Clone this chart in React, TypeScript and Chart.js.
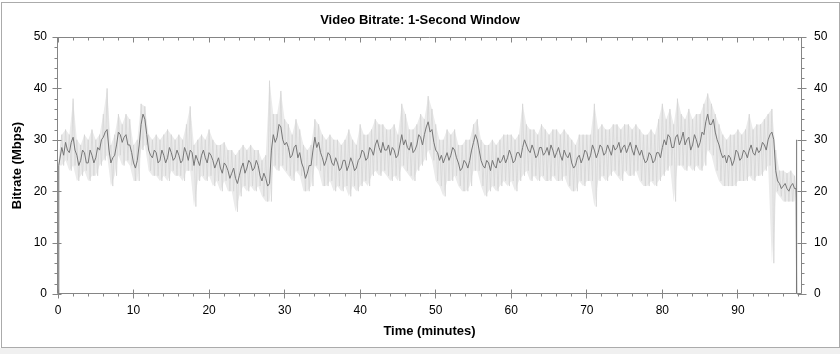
import React, { useEffect, useRef } from 'react';
import { Chart, registerables } from 'chart.js';

Chart.register(...registerables);

const TITLE = 'Video Bitrate: 1-Second Window';
const X_TITLE = 'Time (minutes)';
const Y_TITLE = 'Bitrate (Mbps)';
const X_MIN = 0;
const X_MAX = 98.35;
const Y_MIN = 0;
const Y_MAX = 50;
const X_MAJOR = [0, 10, 20, 30, 40, 50, 60, 70, 80, 90];
const Y_MAJOR = [0, 10, 20, 30, 40, 50];
const MINOR_STEP = 2;

// samples every 0.5 minutes from t = 0.5 to 97.5
const SAMPLE_START = 0.5;
const SAMPLE_STEP = 0.5;

// main (dark) trace at t = 0.5, 1.0, ... 97.5
const MID = [
  28.5, 29.5, 27.5, 30.5, 27, 26, 27.5, 25.5, 27, 26.5,
  28, 30.5, 32, 25.5, 27, 31.5, 29.5, 31, 29, 25.5,
  26, 33, 34, 28, 26.5, 27.5, 26, 27, 26.5, 27.5,
  26.5, 27, 26, 27.5, 28, 25, 26, 27, 26.5, 27.5,
  26, 25.5, 24.5, 25.5, 24, 23.5, 22.5, 23, 25.5, 24.5,
  25.5, 24.5, 25, 22, 22.5, 21.5, 31, 30.5, 32.5, 29,
  28.5, 27, 29, 27.5, 24.5, 23.5, 25, 30.5, 29.5, 26.5,
  26, 27, 25, 25.5, 24.5, 26, 25, 25.5, 24.5, 26.5,
  27.5, 26.5, 28, 29, 28.5, 29.5, 28, 27, 28, 27,
  31, 30, 28, 27.5, 29, 30.5, 31, 33.5, 32, 28,
  26, 25.5, 27.5, 27, 28, 25.5, 24.5, 25.5, 26, 29.5,
  30, 26, 24.5, 25.5, 26, 24.5, 25.5, 27, 26.5, 27,
  26, 27.5, 28.5, 29, 27.5, 28, 27, 28.5, 27.5, 27,
  28, 27.5, 27, 28, 26.5, 25.5, 25, 27, 26.5, 27.5,
  27, 28, 27.5, 28.5, 27.5, 28, 29, 28.5, 27.5, 29,
  28.5, 28, 29, 27, 26.5, 26, 27, 26, 27.5, 28.5,
  29, 30.5, 28.5, 31, 30, 29, 30.5, 29, 30, 29.5,
  31, 35, 33, 31.5, 29, 26.5, 25.5, 26.5, 26, 27.5,
  26.5, 27.5, 28, 27.5, 28.5, 28, 29, 30, 31.5, 24,
  21.5, 21, 20.5, 21, 20.5,
];

// main (dark) trace at the in-between samples t = 0.75, 1.25, ... 97.25
const MID_B = [
  27, 28, 29.5, 28, 25, 28, 25.5, 28, 25.5, 28.5,
  30, 31.5, 28, 26.5, 29, 31, 30.5, 29, 27.5, 24.5,
  29, 35, 31, 27, 28, 25.5, 28, 25.5, 28.5, 26,
  28, 25.5, 28.5, 26, 27.5, 27, 25, 28, 25.5, 27,
  24.5, 26.5, 23.5, 25, 22.5, 24.5, 21.5, 24.5, 23.5, 26,
  24, 26, 23, 23.5, 21, 28, 29.5, 33, 30, 29.5,
  26.5, 28.5, 26.5, 25.5, 22.5, 25, 28, 28.5, 27.5, 25,
  27.5, 25.5, 26.5, 24, 26, 24, 26.5, 24, 26, 28,
  26, 28.5, 27, 30, 27.5, 28, 29, 28.5, 26.5, 29,
  29, 28.5, 29.5, 28, 31, 29, 32.5, 31.5, 29.5, 27.5,
  27, 26.5, 26, 28.5, 26.5, 24, 26, 24.5, 28, 31,
  28, 25, 26, 24, 25, 26.5, 26, 25.5, 28, 25.5,
  27.5, 26.5, 30, 28, 29, 26.5, 28.5, 27, 28.5, 29,
  26.5, 28.5, 26, 27, 27.5, 24.5, 26.5, 25.5, 28, 26,
  29, 26.5, 29, 27, 29, 27, 28, 29.5, 28.5, 27.5,
  29.5, 27, 28, 28, 25.5, 27.5, 25.5, 27.5, 26.5, 30,
  31, 28.5, 30.5, 29, 31.5, 30, 28, 31, 28.5, 31.5,
  33.5, 33, 34, 30, 27.5, 27, 27, 25, 28, 26,
  28, 26.5, 29, 27, 27.5, 29.5, 28, 31, 30, 22,
  20.5, 21.5, 20, 21.5,
];

// upper envelope (light haze)
const HI = [
  31, 32, 31, 38, 30, 29, 31, 30, 32, 30,
  31, 35, 40, 29, 31, 35, 33, 35, 34, 29,
  30, 37, 36.5, 31, 30, 31, 30, 31, 32, 31,
  30, 31, 30, 33, 36.5, 29, 30, 31, 30, 32,
  30, 29, 29, 29.5, 28, 28, 27, 28, 29, 28,
  29, 28, 28, 26, 27, 41.5, 35, 35, 39.5, 34,
  33, 31, 34, 32, 29, 28, 29, 34, 33, 31,
  30, 31, 30, 30, 29, 30, 32, 30, 29, 33,
  31, 31, 32, 34, 33, 33, 32, 32, 33, 31,
  37, 35, 32, 32, 33, 35, 34, 38.5, 36, 33,
  30, 30, 32, 31, 32, 29, 29, 30, 30, 33,
  34, 30, 29, 29, 30, 29, 30, 31, 31, 31,
  30, 31, 37, 33, 32, 32, 31, 33, 32, 31,
  32, 32, 31, 32, 31, 30, 29, 31, 31, 31,
  31, 37, 32, 33, 32, 32, 33, 33, 32, 33,
  33, 32, 33, 32, 31, 31, 32, 31, 34, 37,
  34, 36, 33, 38, 35, 34, 36, 34, 35, 35,
  37, 39, 37, 35, 33, 31, 30, 31, 31, 32,
  31, 32, 35, 32, 33, 33, 34, 35, 36, 28,
  24, 24, 23.5, 24, 23,
];

// lower envelope (light haze)
const LO = [
  25, 26, 24, 25, 22, 23, 24, 22, 23, 23,
  25, 26, 27, 21, 23, 27, 25, 26, 25, 22,
  22, 28, 29, 24, 23, 23, 22, 23, 22, 24,
  23, 23, 22, 24, 24, 17, 22, 23, 22, 23,
  21, 22, 20, 22, 20, 20, 16, 19, 21, 20,
  21, 20, 21, 19, 18, 18, 25, 24, 25, 24,
  23, 22, 24, 23, 20, 20, 21, 25, 24, 21,
  21, 22, 20, 21, 20, 21, 19, 21, 20, 21,
  22, 21, 23, 24, 23, 24, 23, 22, 23, 22,
  25, 24, 23, 22, 24, 25, 26, 28, 26, 22,
  21, 19, 22, 22, 23, 21, 20, 20, 21, 24,
  24, 21, 19, 20, 21, 20, 21, 22, 21, 22,
  20, 22, 23, 24, 22, 23, 22, 23, 22, 22,
  23, 22, 22, 23, 21, 20, 20, 22, 21, 22,
  22, 17, 22, 23, 22, 23, 24, 23, 22, 24,
  23, 23, 24, 22, 21, 21, 22, 21, 22, 23,
  24, 25, 18, 25, 25, 24, 25, 24, 25, 24,
  25, 28, 27, 24, 22, 21, 21, 21, 21, 22,
  22, 22, 23, 22, 23, 23, 24, 25, 6, 20,
  19, 18, 18, 18, 18,
];

// start and end of the recording
const LEAD_T = [0, 0.1];
const LEAD_V = [0, 25];
const TAIL_T = [97.7, 97.75, 97.8];
const TAIL_V = [20.5, 0, 30];

const FONT = 'Arial, "Liberation Sans", sans-serif';
const AXIS_COLOR = '#858585';
const DARK = '#777777';
const SPIKE = '#d5d5d5';
const HAZE_FILL = '#ebebeb';

const axisBoxPlugin = {
  id: 'axisBox',
  afterDatasetsDraw(chart: any) {
    const { ctx, chartArea, scales } = chart;
    const xs = scales.x;
    const ys = scales.y;
    const L = Math.round(chartArea.left) - 0.5;
    const R = Math.round(chartArea.right) + 0.5;
    const T = Math.round(chartArea.top) + 0.5;
    const B = Math.round(chartArea.bottom) - 0.5;
    ctx.save();
    ctx.strokeStyle = AXIS_COLOR;
    ctx.lineWidth = 1;
    ctx.beginPath();
    ctx.rect(L, T, R - L, B - T);
    for (let v = X_MIN; v <= X_MAX; v += MINOR_STEP) {
      const px = Math.floor(xs.getPixelForValue(v)) + 0.5;
      if (X_MAJOR.includes(v)) {
        ctx.moveTo(px, B - 4); ctx.lineTo(px, B + 5);
        ctx.moveTo(px, T); ctx.lineTo(px, T + 5);
      } else {
        ctx.moveTo(px, B); ctx.lineTo(px, B + 3);
        ctx.moveTo(px, T); ctx.lineTo(px, T + 3);
      }
    }
    for (let v = Y_MIN; v <= Y_MAX; v += MINOR_STEP) {
      const py = Math.round(ys.getPixelForValue(v)) + 0.5;
      if (Y_MAJOR.includes(v)) {
        ctx.moveTo(L - 5, py); ctx.lineTo(L + 4, py);
        ctx.moveTo(R - 4, py); ctx.lineTo(R + 5, py);
      } else {
        ctx.moveTo(L - 3, py); ctx.lineTo(L, py);
        ctx.moveTo(R, py); ctx.lineTo(R + 3, py);
      }
    }
    ctx.stroke();
    ctx.restore();
  },
};

export default function App() {
  const ref = useRef<HTMLCanvasElement>(null);

  useEffect(() => {
    const darkPts: { x: number; y: number }[] = [];
    const hiPts: { x: number; y: number }[] = [];
    const loPts: { x: number; y: number }[] = [];
    const spikePts: { x: number; y: number }[] = [];
    LEAD_T.forEach((t, i) => {
      darkPts.push({ x: t, y: LEAD_V[i] });
      hiPts.push({ x: t, y: LEAD_V[i] });
      loPts.push({ x: t, y: LEAD_V[i] });
      spikePts.push({ x: t, y: LEAD_V[i] });
    });
    MID.forEach((v, i) => {
      const t = SAMPLE_START + i * SAMPLE_STEP;
      darkPts.push({ x: t, y: v });
      if (i < MID_B.length) darkPts.push({ x: t + SAMPLE_STEP / 2, y: MID_B[i] });
      hiPts.push({ x: t, y: HI[i] });
      loPts.push({ x: t, y: LO[i] });
      spikePts.push({ x: t, y: HI[i] });
      spikePts.push({ x: t + SAMPLE_STEP / 2, y: LO[i] });
    });
    TAIL_T.forEach((t, i) => {
      darkPts.push({ x: t, y: TAIL_V[i] });
      hiPts.push({ x: t, y: TAIL_V[i] });
      loPts.push({ x: t, y: TAIL_V[i] });
      spikePts.push({ x: t, y: TAIL_V[i] });
    });

    const tickFont = { family: FONT, size: 12 };
    const titleFont = { family: FONT, size: 13, weight: 'bold' as const };

    const chart = new Chart(ref.current!, {
      type: 'line',
      data: {
        datasets: [
          {
            data: hiPts,
            borderColor: 'rgba(0,0,0,0)',
            backgroundColor: HAZE_FILL,
            borderWidth: 0,
            pointRadius: 0,
            tension: 0,
            fill: '+1',
            order: 4,
          },
          {
            data: loPts,
            borderColor: 'rgba(0,0,0,0)',
            borderWidth: 0,
            pointRadius: 0,
            tension: 0,
            fill: false,
            order: 3,
          },
          {
            data: spikePts,
            borderColor: SPIKE,
            borderWidth: 0.8,
            pointRadius: 0,
            tension: 0,
            fill: false,
            order: 2,
          },
          {
            data: darkPts,
            borderColor: DARK,
            borderWidth: 1,
            pointRadius: 0,
            tension: 0,
            fill: false,
            order: 1,
          },
        ],
      },
      options: {
        animation: false,
        responsive: false,
        events: [],
        parsing: false,
        normalized: true,
        layout: { padding: 0 },
        plugins: {
          legend: { display: false },
          tooltip: { enabled: false },
          filler: { propagate: false },
          title: {
            display: true,
            text: TITLE,
            color: '#000',
            font: titleFont,
            padding: { top: 13, bottom: 8.4 },
          },
        },
        scales: {
          x: {
            type: 'linear',
            position: 'bottom',
            min: X_MIN,
            max: X_MAX,
            grid: { display: false, drawTicks: false },
            border: { display: false },
            ticks: {
              stepSize: 10,
              includeBounds: false,
              padding: 9.5,
              color: '#000',
              font: tickFont,
              maxRotation: 0,
              autoSkip: false,
            },
            title: {
              display: true,
              text: X_TITLE,
              color: '#000',
              font: titleFont,
              padding: { top: 0, bottom: 14.5 },
            },
            afterFit: (s: any) => { s.height = 60; },
          },
          y: {
            type: 'linear',
            position: 'left',
            min: Y_MIN,
            max: Y_MAX,
            grid: { display: false, drawTicks: false },
            border: { display: false },
            ticks: { stepSize: 10, padding: 11, color: '#000', font: tickFont },
            title: {
              display: true,
              text: Y_TITLE,
              color: '#000',
              font: titleFont,
              padding: { top: 10, bottom: 0 },
            },
            afterFit: (s: any) => { s.width = 58; },
          },
          y2: {
            type: 'linear',
            position: 'right',
            min: Y_MIN,
            max: Y_MAX,
            grid: { display: false, drawTicks: false },
            border: { display: false },
            ticks: { stepSize: 10, padding: 13, color: '#000', font: tickFont },
            afterFit: (s: any) => { s.width = 39; },
          },
        },
      },
      plugins: [axisBoxPlugin],
    } as any);
    return () => chart.destroy();
  }, []);

  return (
    <div style={{ position: 'fixed', left: 0, top: 0, width: 840, height: 354, background: '#fff', overflow: 'hidden' }}>
      <div style={{ position: 'absolute', left: 1, top: 2, width: 839, height: 346, border: '1px solid #ababab', boxSizing: 'border-box' }} />
      <div style={{ position: 'absolute', left: 0, top: 348, width: 840, height: 6, background: '#f0f0f0' }} />
      <canvas ref={ref} width={840} height={354} style={{ position: 'absolute', left: 0, top: 0, display: 'block' }} />
    </div>
  );
}
